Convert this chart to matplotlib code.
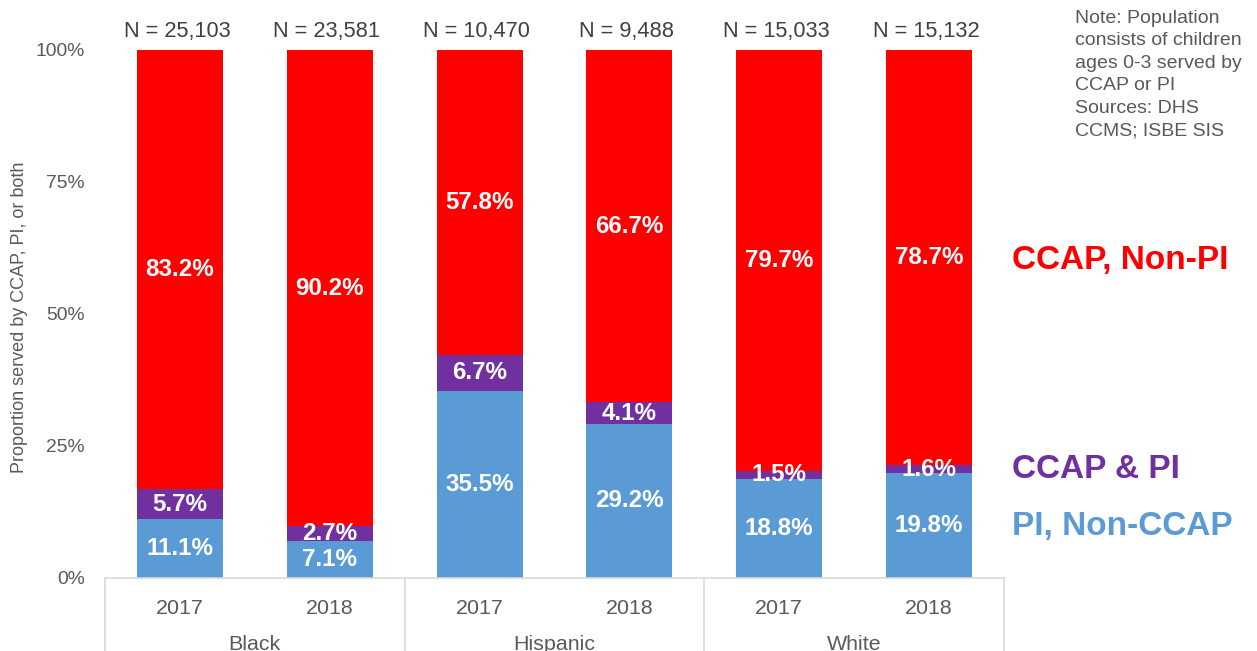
import matplotlib
matplotlib.use("Agg")
import matplotlib.pyplot as plt
import numpy as np

plt.rcParams['font.family'] = ['Liberation Sans', 'DejaVu Sans']

groups = ["Black", "Hispanic", "White"]
years = ["2017", "2018"]
pi_non_ccap = [11.1, 7.1, 35.5, 29.2, 18.8, 19.8]
ccap_and_pi = [5.7, 2.7, 6.7, 4.1, 1.5, 1.6]
ccap_non_pi = [83.2, 90.2, 57.8, 66.7, 79.7, 78.7]
n_labels = ["N = 25,103", "N = 23,581", "N = 10,470", "N = 9,488", "N = 15,033", "N = 15,132"]
series_names = ["PI, Non-CCAP", "CCAP & PI", "CCAP, Non-PI"]
colors = ["#5B9BD5", "#7030A0", "#FF0000"]
yticks = [0, 25, 50, 75, 100]

fig = plt.figure(figsize=(12.57, 6.51), dpi=100)
ax = fig.add_axes([105/1257, (651-578)/651, (1004-105)/1257, (578-50)/651])

x = np.arange(len(pi_non_ccap))
width = 0.573
bottom = np.zeros(len(x))
for vals, col in zip([pi_non_ccap, ccap_and_pi, ccap_non_pi], colors):
    vals = np.array(vals)
    ax.bar(x, vals, width, bottom=bottom, color=col, edgecolor='none', zorder=2)
    for xi, b, v in zip(x, bottom, vals):
        ax.text(xi, b + v/2, f"{v:.1f}%", ha='center', va='center', color='white',
                fontsize=17.4, fontweight='bold', zorder=3)
    bottom = bottom + vals

ax.set_xlim(-0.5, len(x) - 0.5)
ax.set_ylim(0, 100)
ax.set_yticks(yticks)
ax.set_yticklabels([f"{t}%" for t in yticks], fontsize=13.9, color='#595959')
ax.tick_params(axis='y', length=0, pad=14.5)
ax.set_xticks(x)
ax.set_xticklabels([years[i % 2] for i in range(len(x))], fontsize=15.4, color='#595959')
ax.tick_params(axis='x', length=0, pad=15)
for s in ['top', 'right', 'left']:
    ax.spines[s].set_visible(False)
ax.spines['bottom'].set_color('#D9D9D9')
ax.spines['bottom'].set_linewidth(1.2)

fig.text(20/1257, 1 - 317/651, "Proportion served by CCAP, PI, or both", rotation=90,
         fontsize=13, color='#595959', ha='center', va='center')

# N labels above bars
for xi, lab in zip(x, n_labels):
    ax.text(xi - 0.02, 101.5, lab, ha='center', va='bottom', fontsize=15.7, color='#404040', clip_on=False)

# group labels and separators
trans = ax.get_xaxis_transform()
for gi, g in enumerate(groups):
    ax.text(2*gi + 0.5, -0.125, g, transform=trans, ha='center', va='center',
            fontsize=15.4, color='#595959', clip_on=False)
for sep in [-0.5, 1.5, 3.5, 5.5]:
    ax.plot([sep, sep], [0, -0.2], transform=trans, color='#D9D9D9', lw=1.2, clip_on=False)

# right-side series labels
fig.text(1012/1257, 1 - 260/651, series_names[2], color=colors[2], fontsize=24, fontweight='bold', va='center', ha='left')
fig.text(1012/1257, 1 - 470/651, series_names[1], color=colors[1], fontsize=24, fontweight='bold', va='center', ha='left')
fig.text(1012/1257, 1 - 527/651, series_names[0], color=colors[0], fontsize=24, fontweight='bold', va='center', ha='left')

note = "Note: Population\nconsists of children\nages 0-3 served by\nCCAP or PI\nSources: DHS\nCCMS; ISBE SIS"
fig.text(1075/1257, 1 - 10/651, note, fontsize=14, color='#595959', va='top', ha='left', linespacing=1.42)

fig.savefig("out.png", dpi=100)
